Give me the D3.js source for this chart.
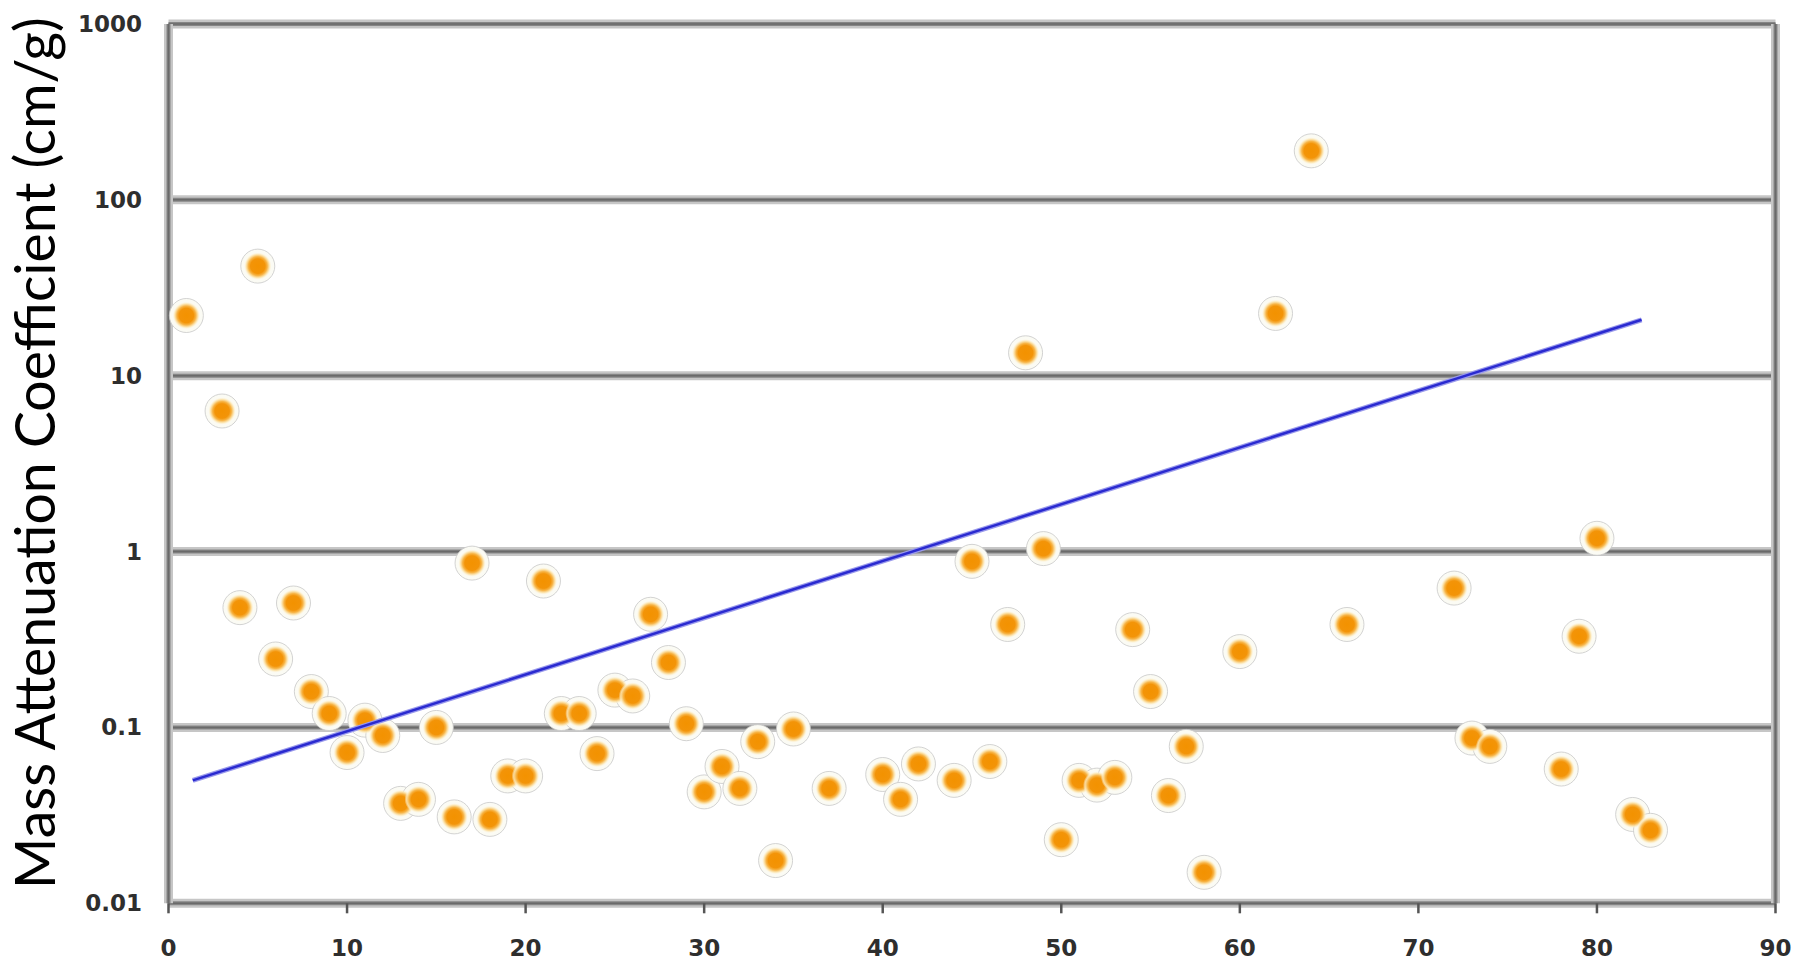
<!DOCTYPE html>
<html>
<head>
<meta charset="utf-8">
<script src="https://cdn.jsdelivr.net/npm/d3@7/dist/d3.min.js"></script>
<style>
  body { margin: 0; background: #fff; }
  svg { display: block; }
</style>
</head>
<body>
<svg id="chart"></svg>
<script>
// atomic number (Z) vs mass attenuation coefficient
const atomicNumber = [1, 3, 4, 5, 6, 7, 8, 9, 10, 11,
  12, 13, 14, 15, 16, 17, 18, 19, 20, 21,
  22, 23, 24, 25, 26, 27, 28, 29, 30, 31,
  32, 33, 34, 35, 37, 40, 41, 42, 44, 45,
  46, 47, 48, 49, 50, 51, 52, 53, 54, 55,
  56, 57, 58, 60, 62, 64, 66, 72, 73, 74,
  78, 79, 80, 82, 83];
const attenuation = [22, 6.3, 0.48, 42, 0.245, 0.51, 0.16, 0.12, 0.072, 0.11,
  0.09, 0.037, 0.039, 0.1, 0.031, 0.86, 0.03, 0.053, 0.053, 0.68,
  0.12, 0.12, 0.071, 0.163, 0.151, 0.44, 0.234, 0.105, 0.043, 0.06,
  0.045, 0.083, 0.0175, 0.098, 0.045, 0.054, 0.039, 0.062, 0.05, 0.88,
  0.064, 0.385, 13.5, 1.04, 0.023, 0.05, 0.047, 0.052, 0.36, 0.16,
  0.041, 0.078, 0.015, 0.27, 22.6, 190, 0.385, 0.62, 0.087, 0.078,
  0.058, 0.33, 1.19, 0.032, 0.026];

// trend line end points (Z, coefficient)
const trendZ = [1.36, 82.5];
const trendValue = [0.05, 20.8];

const xTicks = [0, 10, 20, 30, 40, 50, 60, 70, 80, 90];
const yTicks = [0.01, 0.1, 1, 10, 100, 1000];
const yTickLabels = ["0.01", "0.1", "1", "10", "100", "1000"];
const yTitle = "Mass Attenuation Coefficient (cm/g)";

const width = 1810, height = 968;
const svg = d3.select("#chart").attr("width", width).attr("height", height);

const x = d3.scaleLinear().domain([0, 90]).range([168.5, 1775.5]);
const y = d3.scaleLog().domain([0.01, 1000]).range([903.3, 24]);

const defs = svg.append("defs");
const glow = defs.append("radialGradient").attr("id", "dotGlow");
glow.append("stop").attr("offset", "0%").attr("stop-color", "#f39200");
glow.append("stop").attr("offset", "52%").attr("stop-color", "#f39408");
glow.append("stop").attr("offset", "68%").attr("stop-color", "#f7b548");
glow.append("stop").attr("offset", "85%").attr("stop-color", "#fce7b4").attr("stop-opacity", 0.85);
glow.append("stop").attr("offset", "100%").attr("stop-color", "#fffaf0").attr("stop-opacity", 0);

// grid lines and frame
const grid = svg.append("g");
function doubleLine(x1, y1, x2, y2) {
  grid.append("line").attr("x1", x1).attr("y1", y1).attr("x2", x2).attr("y2", y2)
    .attr("stroke", "#c6c6c6").attr("stroke-width", 9);
  grid.append("line").attr("x1", x1).attr("y1", y1).attr("x2", x2).attr("y2", y2)
    .attr("stroke", "#858585").attr("stroke-width", 4);
  grid.append("line").attr("x1", x1).attr("y1", y1).attr("x2", x2).attr("y2", y2)
    .attr("stroke", "#6a6a6a").attr("stroke-width", 1.5);
}
yTicks.forEach(t => doubleLine(x(0), y(t), x(90), y(t)));
doubleLine(x(0), y(1000), x(0), y(0.01));
doubleLine(x(90), y(1000), x(90), y(0.01));

// x tick marks
svg.append("g").selectAll("line")
  .data(xTicks)
  .join("line")
  .attr("x1", d => x(d)).attr("x2", d => x(d))
  .attr("y1", y(0.01)).attr("y2", y(0.01) + 10)
  .attr("stroke", "#555").attr("stroke-width", 2.5);

// tick labels
svg.append("g").selectAll("text")
  .data(xTicks)
  .join("text")
  .attr("x", d => x(d))
  .attr("y", 948)
  .attr("text-anchor", "middle")
  .attr("dominant-baseline", "central")
  .attr("font-family", "DejaVu Sans, sans-serif")
  .attr("font-weight", "bold")
  .attr("font-size", 23)
  .attr("fill", "#2e2e2e")
  .text(d => d);

svg.append("g").selectAll("text")
  .data(yTicks)
  .join("text")
  .attr("x", 142)
  .attr("y", d => y(d))
  .attr("text-anchor", "end")
  .attr("dominant-baseline", "central")
  .attr("font-family", "DejaVu Sans, sans-serif")
  .attr("font-weight", "bold")
  .attr("font-size", 23)
  .attr("fill", "#2e2e2e")
  .text((d, i) => yTickLabels[i]);

// y axis title, sized to span the plot height like the original
const title = svg.append("text")
  .attr("transform", `translate(55,453) rotate(-90)`)
  .attr("text-anchor", "middle")
  .attr("font-family", "Lato, Open Sans, sans-serif")
  .attr("font-size", 50)
  .attr("fill", "#000")
  .text(yTitle);
const len = title.node().getComputedTextLength();
title.attr("font-size", 50 * 872 / len);

// dots: pale halo first, then glowing core
const points = atomicNumber.map((z, i) => [z, attenuation[i]]);

svg.append("g").selectAll("circle")
  .data(points)
  .join("circle")
  .attr("cx", d => x(d[0]))
  .attr("cy", d => y(d[1]))
  .attr("r", 17)
  .attr("fill", "#fbfbf4")
  .attr("stroke", "#c8c8c8")
  .attr("stroke-width", 0.8);

svg.append("g").selectAll("circle")
  .data(points)
  .join("circle")
  .attr("cx", d => x(d[0]))
  .attr("cy", d => y(d[1]))
  .attr("r", 14)
  .attr("fill", "url(#dotGlow)");

// trend line
const trend = trendZ.map((z, i) => [z, trendValue[i]]);
const lineGen = d3.line().x(d => x(d[0])).y(d => y(d[1]));
svg.append("path").datum(trend)
  .attr("d", lineGen)
  .attr("fill", "none")
  .attr("stroke", "#9a9aec")
  .attr("stroke-width", 5);
svg.append("path").datum(trend)
  .attr("d", lineGen)
  .attr("fill", "none")
  .attr("stroke", "#2a2ad0")
  .attr("stroke-width", 2.5);
</script>
</body>
</html>
